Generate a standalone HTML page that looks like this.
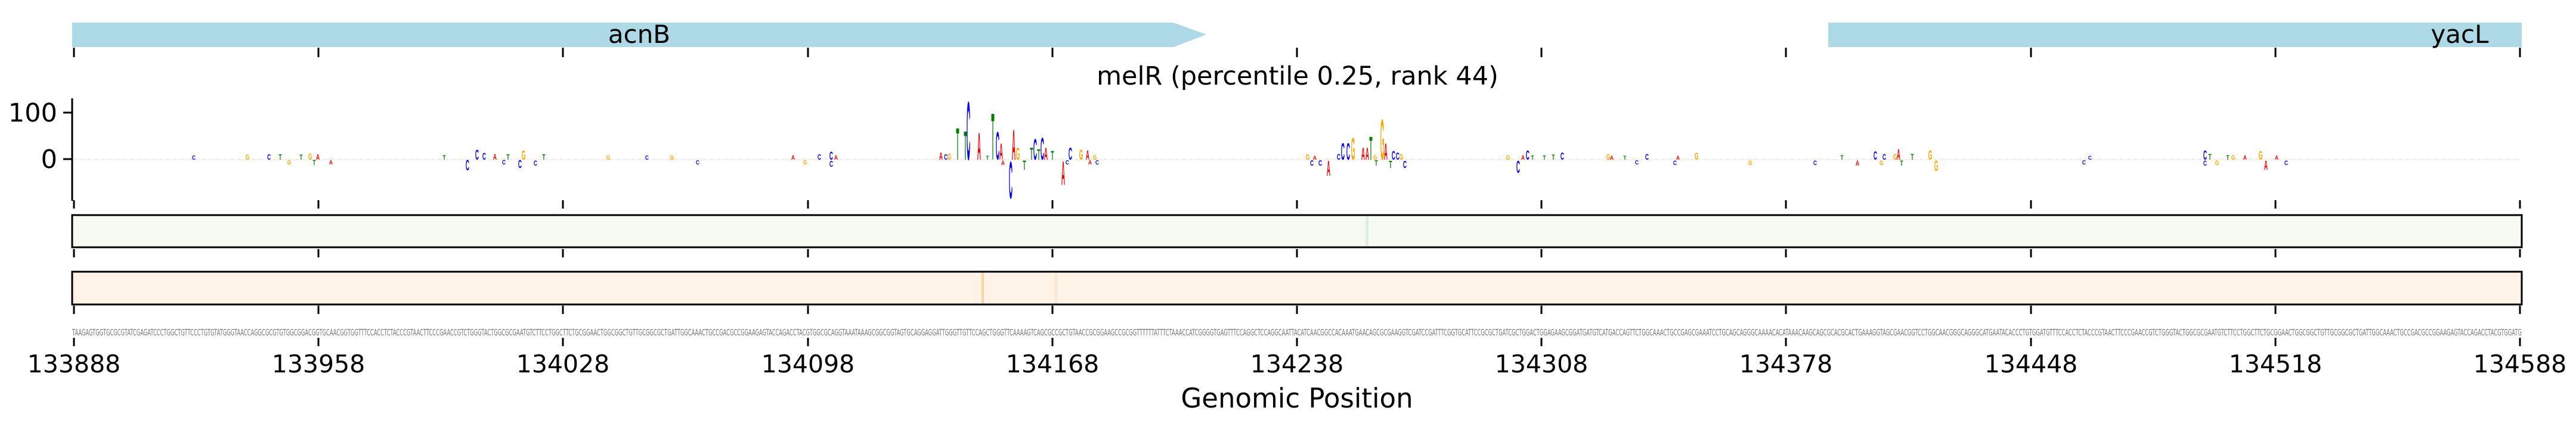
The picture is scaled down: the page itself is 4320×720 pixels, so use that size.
<!DOCTYPE html>
<html><head><meta charset="utf-8"><style>
html,body{margin:0;padding:0;background:#fff;}
svg{display:block;}
text{font-family:"DejaVu Sans","Liberation Sans",sans-serif;}
.l text{font-family:"Liberation Sans",sans-serif;font-weight:bold;font-size:10px;text-anchor:middle;}
.A{fill:#ff0000}.C{fill:#0000ff}.G{fill:#ffa500}.T{fill:#008000}
</style></head><body>
<svg width="4320" height="720" viewBox="0 0 4320 720" xmlns="http://www.w3.org/2000/svg">
<polygon points="121,38 1968,38 2023,58 1968,79 121,79" fill="#add8e6"/>
<rect x="3066" y="38" width="1163" height="41" fill="#add8e6"/>
<text x="1072" y="72" font-size="42" text-anchor="middle">acnB</text>
<text x="4125" y="72" font-size="42" text-anchor="middle">yacL</text>
<g stroke="#000" stroke-width="3">
<path d="M124,80v16M534,80v16M944,80v16M1355,80v16M1765,80v16M2175,80v16M2585,80v16M2995,80v16M3406,80v16M3816,80v16M4226,80v16"/>
<path d="M124,336v14M534,336v14M944,336v14M1355,336v14M1765,336v14M2175,336v14M2585,336v14M2995,336v14M3406,336v14M3816,336v14M4226,336v14"/>
<path d="M124,418v14M534,418v14M944,418v14M1355,418v14M1765,418v14M2175,418v14M2585,418v14M2995,418v14M3406,418v14M3816,418v14M4226,418v14"/>
<path d="M124,513v14M534,513v14M944,513v14M1355,513v14M1765,513v14M2175,513v14M2585,513v14M2995,513v14M3406,513v14M3816,513v14M4226,513v14"/>
<path d="M124,567v14M534,567v14M944,567v14M1355,567v14M1765,567v14M2175,567v14M2585,567v14M2995,567v14M3406,567v14M3816,567v14M4226,567v14"/>
<path d="M121,165V337M106,189h15M106,267h15"/>
</g>
<text x="2176" y="142" font-size="43" text-anchor="middle">melR (percentile 0.25, rank 44)</text>
<text x="96" y="204" font-size="43" text-anchor="end">100</text>
<text x="96" y="282" font-size="43" text-anchor="end">0</text>
<line x1="124" y1="268" x2="4226" y2="268" stroke="#f4e4d0" stroke-width="1"/>
<line x1="124" y1="267" x2="4226" y2="267" stroke="#e4e4f8" stroke-width="1" stroke-dasharray="3,9"/>
<g class="l">
<text class="A" transform="translate(1578,268) scale(0.85,1.8)">A</text>
<text class="C" transform="translate(1586,268) scale(0.85,1.3)">C</text>
<text class="G" transform="translate(1592,268) scale(0.85,1.5)">G</text>
<text class="T" transform="translate(1606,268) scale(0.85,7.6)">T</text>
<text class="T" transform="translate(1619,268) scale(0.85,6.9)">T</text>
<text class="C" transform="translate(1624,268) scale(0.85,14)">C</text>
<text class="A" transform="translate(1642,268) scale(0.85,6.5)">A</text>
<text class="T" transform="translate(1656,268) scale(0.85,0.9)">T</text>
<text class="T" transform="translate(1665,268) scale(0.85,11.1)">T</text>
<text class="C" transform="translate(1673,268) scale(0.85,6.7)">C</text>
<text class="A" transform="translate(1679,268) scale(0.85,3.9)">A</text>
<text class="A" transform="translate(1700,268) scale(0.85,7.2)">A</text>
<text class="G" transform="translate(1707,268) scale(0.85,2.9)">G</text>
<text class="T" transform="translate(1730,268) scale(0.85,2.9)">T</text>
<text class="C" transform="translate(1736,268) scale(0.85,5.0)">C</text>
<text class="T" transform="translate(1742,268) scale(0.85,2.5)">T</text>
<text class="C" transform="translate(1748,268) scale(0.85,5.3)">C</text>
<text class="A" transform="translate(1754,268) scale(0.85,2.9)">A</text>
<text class="T" transform="translate(1765,268) scale(0.85,2.1)">T</text>
<text class="C" transform="translate(1795,268) scale(0.85,2.9)">C</text>
<text class="G" transform="translate(1813,268) scale(0.85,2.4)">G</text>
<text class="A" transform="translate(1824,268) scale(0.85,2.2)">A</text>
<text class="G" transform="translate(1836,268) scale(0.85,1.1)">G</text>
<text class="A" transform="translate(1682,277) scale(0.85,1.1)">A</text>
<text class="C" transform="translate(1695,333) scale(0.85,8.9)">C</text>
<text class="T" transform="translate(1718,285) scale(0.85,2.2)">T</text>
<text class="A" transform="translate(1783,310) scale(0.85,5.7)">A</text>
<text class="C" transform="translate(1790,276) scale(0.85,1.0)">C</text>
<text class="A" transform="translate(1828,276) scale(0.85,1.0)">A</text>
<text class="C" transform="translate(1840,276) scale(0.85,1.0)">C</text>
<text class="G" transform="translate(2193,268) scale(0.85,1.25)">G</text>
<text class="A" transform="translate(2205,268) scale(0.85,0.9)">A</text>
<text class="C" transform="translate(2245,268) scale(0.85,1.4)">C</text>
<text class="C" transform="translate(2252,268) scale(0.85,4.0)">C</text>
<text class="C" transform="translate(2261,268) scale(0.85,4.0)">C</text>
<text class="G" transform="translate(2269,268) scale(0.85,5.3)">G</text>
<text class="A" transform="translate(2286,268) scale(0.85,2.9)">A</text>
<text class="A" transform="translate(2293,268) scale(0.85,2.9)">A</text>
<text class="T" transform="translate(2299,268) scale(0.85,5.6)">T</text>
<text class="G" transform="translate(2306,268) scale(0.85,1.1)">G</text>
<text class="G" transform="translate(2318,268) scale(0.85,9.7)">G</text>
<text class="A" transform="translate(2324,268) scale(0.85,3.9)">A</text>
<text class="C" transform="translate(2337,268) scale(0.85,2.1)">C</text>
<text class="C" transform="translate(2344,268) scale(0.85,1.8)">C</text>
<text class="G" transform="translate(2350,268) scale(0.85,1.4)">G</text>
<text class="A" transform="translate(2228,295) scale(0.85,3.6)">A</text>
<text class="C" transform="translate(2200,278) scale(0.85,1.3)">C</text>
<text class="C" transform="translate(2214,278) scale(0.85,1.3)">C</text>
<text class="T" transform="translate(2308,278) scale(0.85,1.3)">T</text>
<text class="T" transform="translate(2332,282) scale(0.85,1.8)">T</text>
<text class="C" transform="translate(2356,282) scale(0.85,1.8)">C</text>
<text class="G" transform="translate(2529,268) scale(0.85,1.1)">G</text>
<text class="C" transform="translate(2546,290) scale(0.85,2.9)">C</text>
<text class="A" transform="translate(2554,268) scale(0.85,1.1)">A</text>
<text class="C" transform="translate(2562,268) scale(0.85,2.2)">C</text>
<text class="T" transform="translate(2570,268) scale(0.85,1.0)">T</text>
<text class="T" transform="translate(2590,268) scale(0.85,1.0)">T</text>
<text class="T" transform="translate(2605,268) scale(0.85,1.2)">T</text>
<text class="C" transform="translate(2620,268) scale(0.85,1.8)">C</text>
<text class="G" transform="translate(2697,268) scale(0.85,1.4)">G</text>
<text class="A" transform="translate(2703,268) scale(0.85,0.9)">A</text>
<text class="T" transform="translate(2725,268) scale(0.85,0.9)">T</text>
<text class="C" transform="translate(2745,276) scale(0.85,1.0)">C</text>
<text class="C" transform="translate(2762,268) scale(0.85,1.4)">C</text>
<text class="C" transform="translate(2809,277) scale(0.85,1.1)">C</text>
<text class="A" transform="translate(2814,268) scale(0.85,0.9)">A</text>
<text class="G" transform="translate(2845,268) scale(0.85,1.7)">G</text>
<text class="G" transform="translate(2935,277) scale(0.85,1.1)">G</text>
<text class="C" transform="translate(3044,277) scale(0.85,1.1)">C</text>
<text class="T" transform="translate(3089,268) scale(0.85,1.1)">T</text>
<text class="A" transform="translate(3115,278) scale(0.85,1.2)">A</text>
<text class="C" transform="translate(3145,268) scale(0.85,2.0)">C</text>
<text class="G" transform="translate(3155,277) scale(0.85,1.1)">G</text>
<text class="C" transform="translate(3160,268) scale(0.85,1.4)">C</text>
<text class="G" transform="translate(3178,268) scale(0.85,1.4)">G</text>
<text class="A" transform="translate(3184,268) scale(0.85,2.5)">A</text>
<text class="T" transform="translate(3189,278) scale(0.85,1.2)">T</text>
<text class="T" transform="translate(3207,268) scale(0.85,1.4)">T</text>
<text class="G" transform="translate(3237,268) scale(0.85,2.2)">G</text>
<text class="G" transform="translate(3247,287) scale(0.85,2.5)">G</text>
<text class="C" transform="translate(3495,276) scale(0.85,1.0)">C</text>
<text class="C" transform="translate(3505,268) scale(0.85,0.9)">C</text>
<text class="C" transform="translate(3698,268) scale(0.85,2.2)">C</text>
<text class="C" transform="translate(3698,278) scale(0.85,1.2)">C</text>
<text class="T" transform="translate(3706,268) scale(0.85,1.4)">T</text>
<text class="G" transform="translate(3718,277) scale(0.85,1.1)">G</text>
<text class="T" transform="translate(3736,268) scale(0.85,1.1)">T</text>
<text class="G" transform="translate(3745,268) scale(0.85,1.1)">G</text>
<text class="A" transform="translate(3765,268) scale(0.85,1.1)">A</text>
<text class="G" transform="translate(3791,268) scale(0.85,2.1)">G</text>
<text class="A" transform="translate(3800,285) scale(0.85,2.2)">A</text>
<text class="C" transform="translate(3834,277) scale(0.85,1.1)">C</text>
<text class="A" transform="translate(3818,268) scale(0.85,1.0)">A</text>
<text class="C" transform="translate(325,268) scale(0.85,1.0)">C</text>
<text class="G" transform="translate(415,268) scale(0.85,1.2)">G</text>
<text class="C" transform="translate(451,268) scale(0.85,1.3)">C</text>
<text class="T" transform="translate(470,268) scale(0.85,1.3)">T</text>
<text class="G" transform="translate(485,276) scale(0.85,1.0)">G</text>
<text class="T" transform="translate(505,268) scale(0.85,1.2)">T</text>
<text class="G" transform="translate(520,268) scale(0.85,1.5)">G</text>
<text class="T" transform="translate(527,277) scale(0.85,1.2)">T</text>
<text class="A" transform="translate(533,268) scale(0.85,1.3)">A</text>
<text class="A" transform="translate(555,276) scale(0.85,1.0)">A</text>
<text class="T" transform="translate(745,268) scale(0.85,1.1)">T</text>
<text class="C" transform="translate(784,286) scale(0.85,2.5)">C</text>
<text class="C" transform="translate(800,268) scale(0.85,2.4)">C</text>
<text class="C" transform="translate(812,268) scale(0.85,1.7)">C</text>
<text class="A" transform="translate(830,268) scale(0.85,1.4)">A</text>
<text class="C" transform="translate(845,276) scale(0.85,1.1)">C</text>
<text class="T" transform="translate(852,268) scale(0.85,1.3)">T</text>
<text class="G" transform="translate(878,268) scale(0.85,2.2)">G</text>
<text class="C" transform="translate(872,282) scale(0.85,1.9)">C</text>
<text class="C" transform="translate(898,278) scale(0.85,1.2)">C</text>
<text class="T" transform="translate(912,268) scale(0.85,1.3)">T</text>
<text class="G" transform="translate(1020,268) scale(0.85,1.0)">G</text>
<text class="C" transform="translate(1085,268) scale(0.85,1.0)">C</text>
<text class="C" transform="translate(1170,276) scale(0.85,1.0)">C</text>
<text class="G" transform="translate(1127,268) scale(0.85,1.0)">G</text>
<text class="A" transform="translate(1330,268) scale(0.85,1.1)">A</text>
<text class="G" transform="translate(1350,276) scale(0.85,1.0)">G</text>
<text class="C" transform="translate(1374,268) scale(0.85,1.3)">C</text>
<text class="C" transform="translate(1394,268) scale(0.85,1.9)">C</text>
<text class="C" transform="translate(1394,280) scale(0.85,1.5)">C</text>
<text class="A" transform="translate(1402,268) scale(0.85,1.1)">A</text>
</g>
<rect x="121" y="361" width="4108" height="54" fill="#f5fbf2" stroke="#000" stroke-width="3"/>
<rect x="2290" y="362.5" width="5" height="51" fill="#e0f0d8"/>
<rect x="121" y="456" width="4108" height="55" fill="#fff3e8" stroke="#000" stroke-width="3"/>
<rect x="1646" y="457.5" width="4" height="52" fill="#fcd3a6"/>
<rect x="1769" y="457.5" width="4" height="52" fill="#fde6d2"/>
<text x="121" y="563" font-size="15" fill="#777" font-family="Liberation Sans Narrow, Liberation Sans, sans-serif" textLength="4108" lengthAdjust="spacingAndGlyphs">TAAGAGTGGTGCGCGTATCGAGATCCCTGGCTGTTCCCTGTGTATGGGTAACCAGGCGCGTGTGGCGGACGGTGCAACGGTGGTTTCCACCTCTACCCGTAACTTCCCGAACCGTCTGGGTACTGGCGCGAATGTCTTCCTGGCTTCTGCGGAACTGGCGGCTGTTGCGGCGCTGATTGGCAAACTGCCGACGCCGGAAGAGTACCAGACCTACGTGGCGCAGGTAAATAAAGCGGCGGTAGTGCAGGAGGATTGGGTTGTTCCAGCTGGGTTCAAAAGTCAGCGCCGCTGTAACCGCGGAAGCCGCGGTTTTTTATTTCTAAACCATCGGGGTGAGTTTCCAGGCTCCAGGCAATTACATCAACGGCCACAAATGAACAGCGCGAAGGTCGATCCGATTTCGGTGCATTCCGCGCTGATCGCTGGACTGGAGAAGCGGATGATGTCATGACCAGTTCTGGCAAACTGCCGAGCGAAATCCTGCAGCAGGGCAAAACACATAAACAAGCAGCGCACGCACTGAAAGGTAGCGAACGGTCCTGGCAACGGGCAGGGCATGAATACACCCTGTGGATGTTTCCACCTCTACCCGTAACTTCCCGAACCGTCTGGGTACTGGCGCGAATGTCTTCCTGGCTTCTGCGGAACTGGCGGCTGTTGCGGCGCTGATTGGCAAACTGCCGACGCCGGAAGAGTACCAGACCTACGTGGATG</text>
<g font-size="41" text-anchor="middle">
<text x="124" y="625">133888</text><text x="534" y="625">133958</text><text x="944" y="625">134028</text><text x="1355" y="625">134098</text><text x="1765" y="625">134168</text><text x="2175" y="625">134238</text><text x="2585" y="625">134308</text><text x="2995" y="625">134378</text><text x="3406" y="625">134448</text><text x="3816" y="625">134518</text><text x="4226" y="625">134588</text>
</g>
<text x="2175" y="684" font-size="45" text-anchor="middle">Genomic Position</text>
</svg>
</body></html>
